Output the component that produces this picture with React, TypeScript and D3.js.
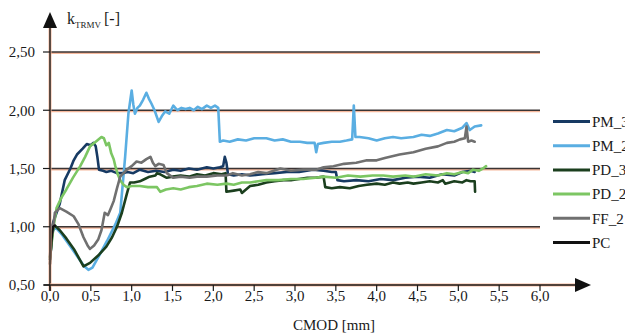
import React from "react";
import * as d3 from "d3";

const W = 625;
const H = 334;

const xTicks = [0, 0.5, 1, 1.5, 2, 2.5, 3, 3.5, 4, 4.5, 5, 5.5, 6];
const yTicks = [0.5, 1.0, 1.5, 2.0, 2.5];
const gridValues = [1.0, 1.5, 2.0, 2.5];

const seriesNames = ["PM_3", "PM_2", "PD_3", "PD_2", "FF_2", "PC"];
const seriesColors = ["#173a63", "#5aaee2", "#1b3f1e", "#7cc663", "#707070", "#111111"];

const pm3X = [0.0, 0.02, 0.12, 0.18, 0.25, 0.29, 0.33, 0.40, 0.45, 0.50, 0.53, 0.56, 0.58, 0.60, 0.65, 0.69, 0.75, 0.82, 0.89, 0.95, 1.02, 1.10, 1.20, 1.30, 1.40, 1.51, 1.60, 1.70, 1.80, 1.92, 2.00, 2.08, 2.12, 2.14, 2.16, 2.18, 2.25, 2.35, 2.45, 2.60, 2.75, 2.90, 3.05, 3.22, 3.35, 3.45, 3.50, 3.52, 3.60, 3.75, 3.90, 4.05, 4.20, 4.35, 4.50, 4.65, 4.80, 4.95, 5.05, 5.15, 5.20];
const pm3Y = [0.74, 1.0, 1.20, 1.40, 1.50, 1.57, 1.62, 1.67, 1.71, 1.70, 1.72, 1.69, 1.60, 1.49, 1.48, 1.47, 1.48, 1.46, 1.46, 1.47, 1.46, 1.49, 1.47, 1.48, 1.47, 1.49, 1.48, 1.50, 1.49, 1.51, 1.50, 1.51, 1.52, 1.60, 1.55, 1.45, 1.44, 1.45, 1.44, 1.45, 1.46, 1.47, 1.47, 1.49, 1.48, 1.47, 1.47, 1.40, 1.39, 1.40, 1.39, 1.41, 1.40, 1.42, 1.43, 1.42, 1.45, 1.44, 1.47, 1.48, 1.47];

const pm2X = [0.0, 0.03, 0.06, 0.15, 0.25, 0.35, 0.42, 0.47, 0.52, 0.60, 0.70, 0.80, 0.86, 0.92, 0.96, 1.00, 1.02, 1.04, 1.07, 1.10, 1.14, 1.18, 1.21, 1.24, 1.28, 1.33, 1.37, 1.41, 1.46, 1.51, 1.56, 1.61, 1.66, 1.71, 1.76, 1.81, 1.86, 1.92, 1.97, 2.02, 2.06, 2.08, 2.12, 2.2, 2.3, 2.4, 2.5, 2.65, 2.75, 2.85, 2.95, 3.06, 3.15, 3.24, 3.26, 3.28, 3.35, 3.45, 3.55, 3.63, 3.70, 3.72, 3.74, 3.79, 3.9, 4.0, 4.1, 4.2, 4.3, 4.45, 4.55, 4.65, 4.75, 4.86, 4.95, 5.05, 5.10, 5.14, 5.20, 5.28];
const pm2Y = [0.72, 0.95, 1.00, 0.93, 0.83, 0.73, 0.66, 0.63, 0.65, 0.75, 0.88, 1.02, 1.12, 1.60, 1.97, 2.17, 2.05, 1.97, 2.02, 2.04, 2.09, 2.15, 2.10, 2.06, 2.00, 1.90, 1.95, 1.99, 1.97, 2.04, 2.00, 2.02, 2.01, 2.02, 2.00, 2.03, 2.01, 2.04, 2.02, 2.04, 2.02, 1.73, 1.74, 1.73, 1.75, 1.74, 1.76, 1.76, 1.74, 1.75, 1.73, 1.73, 1.72, 1.72, 1.64, 1.71, 1.72, 1.73, 1.73, 1.74, 1.75, 2.04, 1.77, 1.77, 1.76, 1.74, 1.76, 1.77, 1.76, 1.77, 1.79, 1.78, 1.80, 1.83, 1.82, 1.85, 1.89, 1.83, 1.86, 1.87];

const pd3X = [0.0, 0.03, 0.06, 0.12, 0.2, 0.3, 0.41, 0.49, 0.6, 0.69, 0.76, 0.82, 0.88, 0.94, 0.98, 1.03, 1.10, 1.16, 1.22, 1.29, 1.31, 1.35, 1.43, 1.50, 1.60, 1.70, 1.80, 1.90, 2.00, 2.10, 2.15, 2.16, 2.25, 2.33, 2.35, 2.45, 2.55, 2.65, 2.75, 2.86, 2.95, 3.05, 3.15, 3.25, 3.35, 3.37, 3.45, 3.55, 3.67, 3.78, 3.88, 4.0, 4.1, 4.2, 4.28, 4.38, 4.45, 4.55, 4.65, 4.75, 4.81, 4.84, 4.95, 5.05, 5.10, 5.15, 5.20, 5.205];
const pd3Y = [0.72, 0.96, 1.01, 0.97, 0.90, 0.80, 0.66, 0.69, 0.76, 0.83, 0.91, 1.0, 1.12, 1.28, 1.38, 1.38, 1.39, 1.41, 1.43, 1.44, 1.46, 1.45, 1.42, 1.43, 1.44, 1.43, 1.45, 1.44, 1.46, 1.45, 1.46, 1.30, 1.31, 1.32, 1.29, 1.35, 1.36, 1.38, 1.39, 1.40, 1.40, 1.41, 1.42, 1.42, 1.43, 1.34, 1.33, 1.34, 1.33, 1.35, 1.36, 1.37, 1.36, 1.38, 1.37, 1.38, 1.37, 1.38, 1.39, 1.38, 1.40, 1.37, 1.39, 1.38, 1.40, 1.39, 1.39, 1.30];

const pd2X = [0.0, 0.04, 0.08, 0.14, 0.20, 0.28, 0.37, 0.43, 0.49, 0.56, 0.63, 0.66, 0.69, 0.72, 0.75, 0.78, 0.80, 0.83, 0.86, 0.90, 0.94, 1.0, 1.10, 1.20, 1.31, 1.35, 1.42, 1.51, 1.60, 1.70, 1.80, 1.92, 2.05, 2.16, 2.25, 2.35, 2.45, 2.55, 2.65, 2.80, 2.95, 3.10, 3.25, 3.35, 3.50, 3.65, 3.80, 3.95, 4.08, 4.2, 4.35, 4.45, 4.6, 4.75, 4.86, 4.95, 5.05, 5.12, 5.18, 5.25, 5.30, 5.34];
const pd2Y = [0.74, 0.98, 1.16, 1.25, 1.32, 1.42, 1.52, 1.60, 1.69, 1.73, 1.77, 1.76, 1.70, 1.72, 1.63, 1.58, 1.52, 1.45, 1.40, 1.36, 1.34, 1.35, 1.35, 1.34, 1.34, 1.30, 1.32, 1.33, 1.32, 1.34, 1.35, 1.37, 1.36, 1.37, 1.36, 1.38, 1.38, 1.39, 1.40, 1.40, 1.41, 1.41, 1.42, 1.43, 1.42, 1.44, 1.43, 1.44, 1.44, 1.43, 1.44, 1.43, 1.45, 1.44, 1.46, 1.45, 1.47, 1.46, 1.49, 1.48, 1.50, 1.52];

const ff2X = [0.03, 0.06, 0.12, 0.20, 0.29, 0.35, 0.41, 0.46, 0.49, 0.54, 0.59, 0.63, 0.67, 0.71, 0.74, 0.78, 0.82, 0.86, 0.90, 0.94, 1.00, 1.06, 1.12, 1.18, 1.23, 1.26, 1.29, 1.33, 1.39, 1.43, 1.51, 1.60, 1.71, 1.80, 1.92, 2.05, 2.16, 2.24, 2.35, 2.45, 2.55, 2.65, 2.82, 2.95, 3.10, 3.26, 3.35, 3.47, 3.60, 3.75, 3.88, 4.0, 4.1, 4.28, 4.45, 4.6, 4.75, 4.86, 4.95, 5.02, 5.08, 5.10, 5.12, 5.16, 5.20];
const ff2Y = [0.95, 1.12, 1.16, 1.13, 1.09, 1.02, 0.91, 0.84, 0.81, 0.84, 0.89, 0.97, 1.12, 1.10, 1.15, 1.22, 1.33, 1.43, 1.46, 1.49, 1.52, 1.56, 1.55, 1.58, 1.60, 1.55, 1.52, 1.54, 1.53, 1.46, 1.42, 1.43, 1.42, 1.43, 1.43, 1.44, 1.44, 1.46, 1.44, 1.45, 1.47, 1.46, 1.50, 1.48, 1.49, 1.49, 1.51, 1.52, 1.54, 1.55, 1.57, 1.57, 1.59, 1.62, 1.64, 1.67, 1.69, 1.72, 1.73, 1.75, 1.76, 1.86, 1.73, 1.74, 1.73];

const pcX = [0.0, 0.01, 0.02, 0.03, 0.04, 0.06];
const pcY = [0.68, 0.80, 0.90, 0.97, 1.00, 1.01];

const seriesXs = [pm3X, pm2X, pd3X, pd2X, ff2X, pcX];
const seriesYs = [pm3Y, pm2Y, pd3Y, pd2Y, ff2Y, pcY];
const drawOrder = [1, 0, 2, 3, 4, 5];

const fmt = (v: number, d: number) => v.toFixed(d).replace(".", ",");

const textStyle = { fontFamily: '"Liberation Serif"' };

export default function App() {
  const x = d3.scaleLinear().domain([0, 6]).range([50, 540]);
  const y = d3.scaleLinear().domain([0.5, 2.5]).range([285, 52]);
  const line = d3
    .line<[number, number]>()
    .x((d) => x(d[0]))
    .y((d) => y(d[1]))
    .curve(d3.curveLinear);

  const legendY0 = 121.5;
  const legendStep = 24.2;

  return (
    <svg
      width={W}
      height={H}
      style={{ position: "absolute", left: 0, top: 0, background: "#fff" }}
    >
      {/* gridlines */}
      {gridValues.map((g) => (
        <g key={g}>
          <line x1={x(0)} x2={x(6)} y1={y(g) + 1} y2={y(g) + 1} stroke="#f6b89c" strokeWidth={2} />
          <line x1={x(0)} x2={x(6)} y1={y(g)} y2={y(g)} stroke="#3a3434" strokeWidth={1.3} />
        </g>
      ))}

      {/* series */}
      {drawOrder.map((i) => {
        const pts: [number, number][] = seriesXs[i].map((v, k) => [v, seriesYs[i][k]]);
        return (
          <path
            key={seriesNames[i]}
            d={line(pts) || ""}
            fill="none"
            stroke={seriesColors[i]}
            strokeWidth={2.6}
            strokeLinejoin="round"
            strokeLinecap="round"
          />
        );
      })}

      {/* y axis */}
      <line x1={50} x2={50} y1={291} y2={26} stroke="#f6b89c" strokeWidth={3} />
      <line x1={50} x2={50} y1={291} y2={26} stroke="#1a1a1a" strokeWidth={1.4} />
      <path d="M50,12 L43,28 L57,28 Z" fill="#111" />
      {yTicks.map((t) => (
        <g key={t}>
          <line x1={43} x2={50} y1={y(t)} y2={y(t)} stroke="#1a1a1a" strokeWidth={1.2} />
          <text x={35} y={y(t)} dy="0.35em" textAnchor="end" fontSize={15} fill="#1a1a1a" style={textStyle}>
            {fmt(t, 2)}
          </text>
        </g>
      ))}

      {/* x axis */}
      <line x1={50} x2={578} y1={285} y2={285} stroke="#f6b89c" strokeWidth={3} />
      <line x1={44} x2={578} y1={285} y2={285} stroke="#1a1a1a" strokeWidth={1.4} />
      <path d="M591,285 L575,278 L575,292 Z" fill="#111" />
      {xTicks.map((t) => (
        <g key={t}>
          <line x1={x(t)} x2={x(t)} y1={285} y2={291} stroke="#1a1a1a" strokeWidth={1.2} />
          <text x={x(t)} y={301} textAnchor="middle" fontSize={15} fill="#1a1a1a" style={textStyle}>
            {fmt(t, 1)}
          </text>
        </g>
      ))}

      {/* axis titles */}
      <text x={67} y={24} fontSize={16} fill="#1a1a1a" style={textStyle}>
        k
        <tspan fontSize={9} dy={4}>TRMV</tspan>
        <tspan fontSize={16} dy={-4} dx={3}>[-]</tspan>
      </text>
      <text x={293} y={330} fontSize={15} fill="#1a1a1a" style={textStyle}>
        CMOD [mm]
      </text>

      {/* legend */}
      {seriesNames.map((n, i) => (
        <g key={n}>
          <line
            x1={553}
            x2={590}
            y1={legendY0 + i * legendStep}
            y2={legendY0 + i * legendStep}
            stroke={seriesColors[i]}
            strokeWidth={3}
          />
          <text x={592} y={legendY0 + i * legendStep} dy="0.35em" fontSize={15} fill="#1a1a1a" style={textStyle}>
            {n}
          </text>
        </g>
      ))}
    </svg>
  );
}
